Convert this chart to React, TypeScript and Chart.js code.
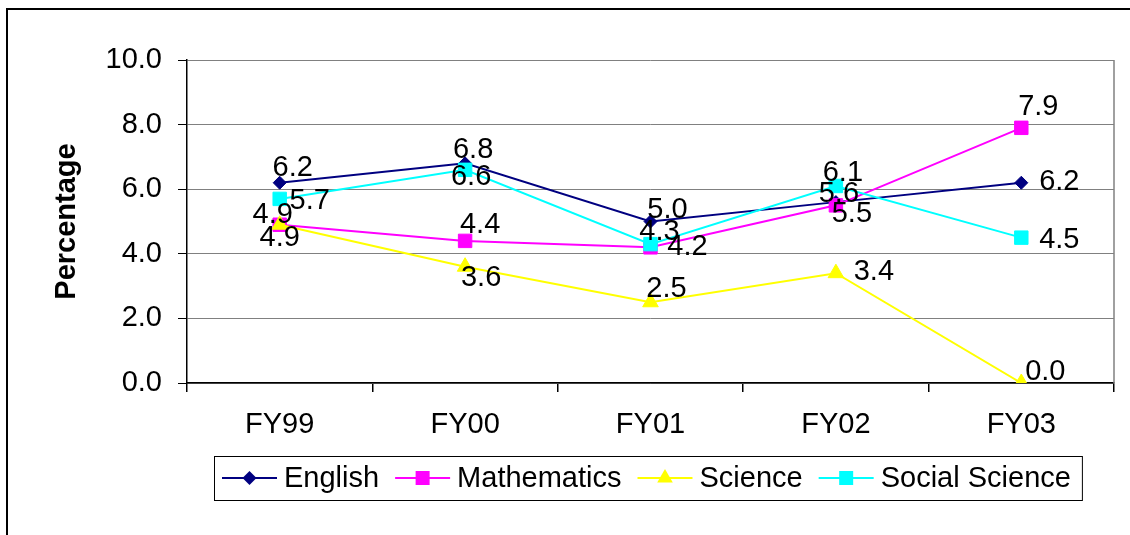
import { useEffect, useRef } from 'react';
import { Chart, registerables } from 'chart.js';

Chart.register(...registerables);

// ---- data ----
const categories = ['FY99', 'FY00', 'FY01', 'FY02', 'FY03'];
const english = [6.2, 6.8, 5.0, 5.6, 6.2];
const mathematics = [4.9, 4.4, 4.2, 5.5, 7.9];
const science = [4.9, 3.6, 2.5, 3.4, 0.0];
const socialScience = [5.7, 6.6, 4.3, 6.1, 4.5];
const seriesNames = ['English', 'Mathematics', 'Science', 'Social Science'];
const yMin = 0;
const yMax = 10;
const yStep = 2;

// ---- styles ----
const FONT = "'Liberation Sans', Arial, sans-serif";
const FS = 29;
const colors = ['#000080', '#FF00FF', '#FFFF00', '#00FFFF'];
const pointStyles = ['rectRot', 'rect', 'triangle', 'rect'];
const pointRadii = [6.5, 9.5, 9, 9.5];
// data-label offsets (px) relative to each point, per series
const labelOffsets: number[][][] = [
  [[13, -15], [8, -13], [17, -12], [3, -8], [38, -1]],
  [[-7, -10], [15, -16], [37, 0], [16, 9], [17, -21]],
  [[0, 13], [16, 11], [16, -13], [38, -1], [24, -11]],
  [[30, 2], [6, 7], [9, -12], [7, -13], [38, 2]],
];

const framePlugin = {
  id: 'frame',
  beforeDraw(chart: any) {
    const ctx = chart.ctx;
    ctx.save();
    ctx.fillStyle = '#fff';
    ctx.fillRect(0, 0, chart.width, chart.height);
    ctx.fillStyle = '#000';
    ctx.fillRect(6, 8, 2, chart.height - 8);
    ctx.fillRect(6, 8, chart.width - 6, 2);
    ctx.restore();
  },
  afterDraw(chart: any) {
    const { ctx, chartArea } = chart;
    ctx.save();
    ctx.strokeStyle = '#808080';
    ctx.lineWidth = 1.5;
    ctx.beginPath();
    ctx.moveTo(chartArea.right, chartArea.top);
    ctx.lineTo(chartArea.right, chartArea.bottom);
    ctx.stroke();
    ctx.restore();
  },
};

const labelsPlugin = {
  id: 'valueLabels',
  afterDatasetsDraw(chart: any) {
    const ctx = chart.ctx;
    ctx.save();
    ctx.font = `${FS}px ${FONT}`;
    ctx.fillStyle = '#000';
    ctx.textAlign = 'center';
    ctx.textBaseline = 'middle';
    chart.data.datasets.forEach((ds: any, di: number) => {
      const meta = chart.getDatasetMeta(di);
      meta.data.forEach((pt: any, i: number) => {
        const off = labelOffsets[di][i];
        ctx.fillText(Number(ds.data[i]).toFixed(1), pt.x + off[0], pt.y + off[1]);
      });
    });
    ctx.restore();
  },
};

function drawMarker(ctx: CanvasRenderingContext2D, style: string, x: number, y: number, color: string) {
  ctx.fillStyle = color;
  ctx.beginPath();
  if (style === 'rectRot') {
    const r = 7;
    ctx.moveTo(x - r, y);
    ctx.lineTo(x, y - r);
    ctx.lineTo(x + r, y);
    ctx.lineTo(x, y + r);
  } else if (style === 'triangle') {
    const r = 9;
    ctx.moveTo(x, y - r);
    ctx.lineTo(x + r * 0.866, y + r * 0.5);
    ctx.lineTo(x - r * 0.866, y + r * 0.5);
  } else {
    const h = 7;
    ctx.rect(x - h, y - h, 2 * h, 2 * h);
  }
  ctx.closePath();
  ctx.fill();
}

const legendPlugin = {
  id: 'customLegend',
  afterDraw(chart: any) {
    const ctx = chart.ctx;
    ctx.save();
    ctx.font = `${FS}px ${FONT}`;
    const boxLeft = 214;
    const boxTop = 456;
    const boxH = 44;
    const cy = boxTop + boxH / 2;
    const lineLen = 55;
    let x = boxLeft + 8;
    const items = seriesNames.map((name, i) => {
      const start = x;
      const tw = ctx.measureText(name).width;
      x = start + lineLen + 7 + tw + 16;
      return { name, i, start, tw };
    });
    const boxRight = x - 16 + 11;
    ctx.fillStyle = '#fff';
    ctx.fillRect(boxLeft, boxTop, boxRight - boxLeft, boxH);
    ctx.strokeStyle = '#000';
    ctx.lineWidth = 1;
    ctx.strokeRect(boxLeft + 0.5, boxTop + 0.5, boxRight - boxLeft, boxH);
    items.forEach(({ name, i, start }) => {
      ctx.strokeStyle = colors[i];
      ctx.lineWidth = 2;
      ctx.beginPath();
      ctx.moveTo(start, cy);
      ctx.lineTo(start + lineLen, cy);
      ctx.stroke();
      drawMarker(ctx, pointStyles[i], start + lineLen / 2, cy, colors[i]);
      ctx.fillStyle = '#000';
      ctx.textAlign = 'left';
      ctx.textBaseline = 'middle';
      ctx.fillText(name, start + lineLen + 7, cy + 1);
    });
    ctx.restore();
  },
};

export default function App() {
  const ref = useRef<HTMLCanvasElement>(null);
  useEffect(() => {
    const seriesValues = [english, mathematics, science, socialScience];
    const chart = new Chart(ref.current as HTMLCanvasElement, {
      type: 'line',
      data: {
        labels: categories,
        datasets: seriesValues.map((vals, i) => ({
          label: seriesNames[i],
          data: vals,
          borderColor: colors[i],
          backgroundColor: colors[i],
          pointBackgroundColor: colors[i],
          pointBorderColor: colors[i],
          pointStyle: pointStyles[i] as any,
          pointRadius: pointRadii[i],
          pointBorderWidth: 1,
          borderWidth: 2,
          tension: 0,
          fill: false,
          order: 4 - i,
        })),
      },
      options: {
        responsive: false,
        animation: false,
        events: [],
        layout: { padding: { left: 0, top: 60, right: 16, bottom: 92 } },
        plugins: { legend: { display: false }, tooltip: { enabled: false } },
        scales: {
          x: {
            offset: true,
            grid: { offset: true, drawOnChartArea: false, drawTicks: true, tickLength: 9, tickColor: '#000', lineWidth: 1.5 },
            border: { color: '#000', width: 1.5 },
            ticks: { font: { family: FONT, size: FS }, color: '#000', padding: 16, maxRotation: 0, autoSkip: false },
            afterFit: (s: any) => { s.height = 60; },
          },
          y: {
            min: yMin,
            max: yMax,
            ticks: {
              stepSize: yStep,
              callback: (v: any) => Number(v).toFixed(1),
              font: { family: FONT, size: FS },
              color: '#000',
              padding: 16,
            },
            grid: { color: '#808080', tickColor: '#000', tickLength: 9, lineWidth: 1 },
            border: { color: '#000', width: 1.5 },
            title: {
              display: true,
              text: 'Percentage',
              font: { family: FONT, size: FS, weight: 'bold' },
              color: '#000',
              padding: { top: 50, bottom: 0 },
            },
            afterFit: (s: any) => { s.width = 187; },
          },
        },
      },
      plugins: [framePlugin, labelsPlugin, legendPlugin],
    });
    return () => chart.destroy();
  }, []);
  return (
    <div style={{ position: 'absolute', left: 0, top: 0, width: 1130, height: 535, background: '#fff' }}>
      <canvas ref={ref} width={1130} height={535} style={{ display: 'block' }} />
    </div>
  );
}
